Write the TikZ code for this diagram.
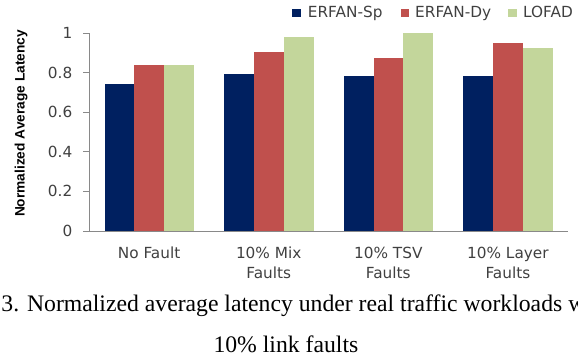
\documentclass[tikz,border=0pt]{standalone}
\usepackage{fontspec}
\newfontfamily\chartfont{DejaVu Sans}
\newfontfamily\titlefont{Liberation Sans}
\newfontfamily\capfont{Liberation Serif}
\definecolor{barblue}{HTML}{002060}
\definecolor{barred}{HTML}{C0504D}
\definecolor{bargreen}{HTML}{C3D69B}
\definecolor{axisgray}{HTML}{898989}
\definecolor{labgray}{HTML}{404040}
\tikzset{
  axisline/.style={draw=axisgray, line width=1pt},
  ticklab/.style={font=\chartfont\fontsize{15.3}{18}\selectfont, text=labgray, anchor=base east, inner sep=0pt},
  catlab/.style={font=\chartfont\fontsize{15.3}{18}\selectfont, text=labgray, anchor=base, inner sep=0pt},
  leglab/.style={font=\chartfont\fontsize{15.3}{18}\selectfont, text=labgray, anchor=base west, inner sep=0pt},
  captext/.style={font=\capfont\fontsize{23.7}{28}\selectfont, text=black, anchor=base west, inner sep=0pt},
  ytitle/.style={font=\titlefont\bfseries\fontsize{13.7}{16}\selectfont, text=black, rotate=90, inner sep=0pt}
}
\begin{document}
\begin{tikzpicture}[x=1pt,y=-1pt]
\useasboundingbox (0,0) rectangle (578,362);
\clip (0,0) rectangle (578,362);
% bars
\foreach \i/\a/\b/\c in {0/0.742/0.84/0.84, 1/0.794/0.907/0.983, 2/0.784/0.877/1.0, 3/0.784/0.949/0.927}{
  \pgfmathsetmacro{\xl}{89.3+119.6*\i+15.2}
  \fill[barblue]  (\xl,231) rectangle ({\xl+29.87},{231-197.7*\a});
  \fill[barred]   ({\xl+29.87},231) rectangle ({\xl+59.74},{231-197.7*\b});
  \fill[bargreen] ({\xl+59.74},231) rectangle ({\xl+89.6},{231-197.7*\c});
}
% axes
\coordinate (o) at (89.3,231);
\coordinate (ytop) at (89.3,33.3);
\coordinate (xend) at (567.7,231);
\draw[axisline] (ytop) -- (o) -- (xend);
\foreach \v/\t in {0/0,1/0.2,2/0.4,3/0.6,4/0.8,5/1}{
  \coordinate (tk\v) at (89.3,{231-39.54*\v});
  \draw[axisline] (tk\v) -- ++(-6.3,0);
  \node[ticklab] (tl\v) at (72.5,{231-39.54*\v+5.4}) {\t};
}
% category labels
\node[catlab] (c1a) at (149.1,258.3) {No Fault};
\node[catlab] (c2a) at (268.7,258.3) {10\% Mix};
\node[catlab] (c2b) at (268.7,278.3) {Faults};
\node[catlab] (c3a) at (388.3,258.3) {10\% TSV};
\node[catlab] (c3b) at (388.3,278.3) {Faults};
\node[catlab] (c4a) at (507.9,258.3) {10\% Layer};
\node[catlab] (c4b) at (507.9,278.3) {Faults};
% y title
\node[ytitle] (yt) at (21,123.5) {Normalized Average Latency};
% legend
\fill[barblue]  (292,9) rectangle (300.5,17);
\node[leglab] (l1) at (307.7,17.3) {ERFAN-Sp};
\fill[barred]   (400.5,9) rectangle (409,17);
\node[leglab] (l2) at (415,17.3) {ERFAN-Dy};
\fill[bargreen] (508,9) rectangle (516.5,17);
\node[leglab] (l3) at (523,17.3) {LOFAD};
% caption
\node[captext] (cap1) at (1.2,311.7) {3. Normalized average latency under real traffic workloads w};
\node[captext] (cap2) at (213.3,352.7) {10\% link faults};
\end{tikzpicture}
\end{document}
